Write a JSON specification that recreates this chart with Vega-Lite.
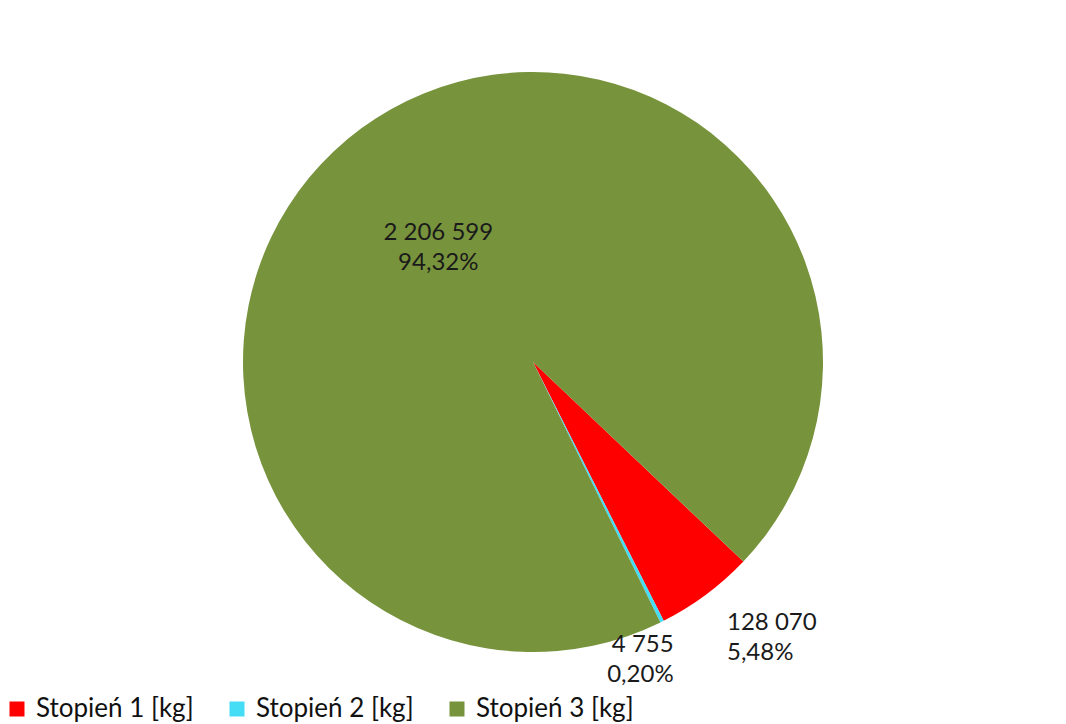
{
  "$schema": "https://vega.github.io/schema/vega-lite/v6.json",
  "width": 1066,
  "height": 724,
  "autosize": {"type": "fit", "contains": "padding"},
  "padding": 0,
  "background": "white",
  "config": {"view": {"stroke": null}, "font": "Lato"},
  "data": {
    "values": [
      {"stopien": "Stopień 1 [kg]", "kg": 128070, "label": ["128 070", "5,48%"]},
      {"stopien": "Stopień 2 [kg]", "kg": 4755, "label": ["4 755", "0,20%"]},
      {"stopien": "Stopień 3 [kg]", "kg": 2206599, "label": ["2 206 599", "94,32%"]}
    ]
  },
  "transform": [
    {"stack": "kg", "groupby": [], "sort": [{"field": "stopien", "order": "ascending"}], "as": ["t0", "t1"]},
    {"calculate": "(datum.t0 + datum.t1) / 2", "as": "tm"}
  ],
  "layer": [
    {
      "mark": {"type": "arc", "outerRadius": 290},
      "encoding": {
        "theta": {"field": "t0", "type": "quantitative", "scale": {"domain": [0, 2339424], "range": [2.33, 8.613]}},
        "theta2": {"field": "t1"},
        "color": {
          "field": "stopien",
          "type": "nominal",
          "scale": {"domain": ["Stopień 1 [kg]", "Stopień 2 [kg]", "Stopień 3 [kg]"], "range": ["#FF0000", "#45DCF5", "#77933C"]},
          "legend": {
            "orient": "none",
            "legendX": 4,
            "legendY": 696,
            "direction": "horizontal",
            "title": null,
            "symbolType": "square",
            "symbolSize": 225,
            "symbolStrokeWidth": 0,
            "labelFont": "Lato",
            "labelFontSize": 26,
            "labelColor": "#111111",
            "labelLimit": 0,
            "columnPadding": 30,
            "labelOffset": 6
          }
        }
      }
    },
    {
      "transform": [{"filter": "datum.stopien === 'Stopień 3 [kg]'"}],
      "mark": {"type": "text", "radius": 160, "fontSize": 24, "color": "#1a1a1a", "align": "center", "baseline": "middle", "lineHeight": 30},
      "encoding": {
        "theta": {"field": "tm", "type": "quantitative", "scale": {"domain": [0, 2339424], "range": [2.33, 8.613]}},
        "text": {"field": "label"}
      }
    },
    {
      "transform": [{"filter": "datum.stopien === 'Stopień 1 [kg]'"}],
      "mark": {"type": "text", "radius": 325, "fontSize": 24, "color": "#1a1a1a", "align": "left", "baseline": "middle", "lineHeight": 30},
      "encoding": {
        "theta": {"field": "tm", "type": "quantitative", "scale": {"domain": [0, 2339424], "range": [2.33, 8.613]}},
        "text": {"field": "label"}
      }
    },
    {
      "transform": [{"filter": "datum.stopien === 'Stopień 2 [kg]'"}],
      "mark": {"type": "text", "radius": 316, "fontSize": 24, "color": "#1a1a1a", "align": "right", "baseline": "middle", "lineHeight": 30},
      "encoding": {
        "theta": {"field": "tm", "type": "quantitative", "scale": {"domain": [0, 2339424], "range": [2.33, 8.613]}},
        "text": {"field": "label"}
      }
    }
  ]
}
